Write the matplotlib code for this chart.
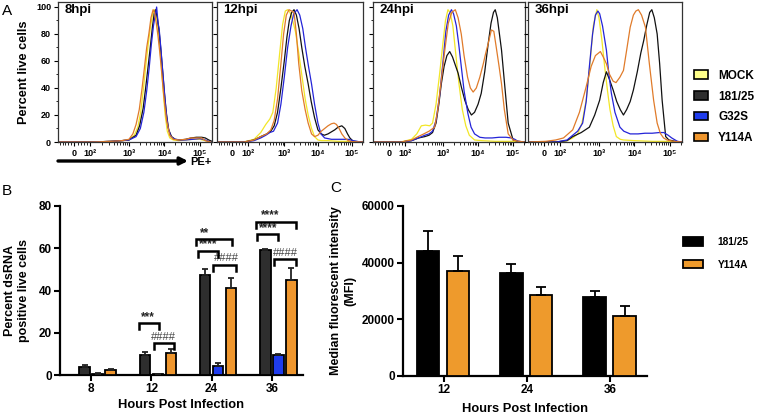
import numpy as np
import matplotlib.pyplot as plt
from matplotlib.patches import Patch

plt.rcParams['font.family'] = ['Liberation Sans', 'DejaVu Sans']
plt.rcParams['font.weight'] = 'bold'
plt.rcParams['axes.labelweight'] = 'bold'

W, H = 757, 416

# ---- data --------------------------------------------------------------
strains = ['MOCK', '181/25', 'G32S', 'Y114A']
line_colors = {'MOCK': '#f2e627', '181/25': '#111111', 'G32S': '#2424d8', 'Y114A': '#e07b2a'}
fill_colors = {'MOCK': '#ffff8a', '181/25': '#2e2e2e', 'G32S': '#1f3ced', 'Y114A': '#ef962d'}

hist_titles = ['8hpi', '12hpi', '24hpi', '36hpi']
pe_ticks = [1.46, 1.91, 3.0, 4.0, 5.0]
pe_tick_labels = ['0', '10²', '10³', '10⁴', '10⁵']

# flow histograms, x in display units (~log10 PE), y in percent of max
hist_8 = {
    'MOCK': ([1.0, 2.0, 2.5, 2.8, 3.0, 3.15, 3.25, 3.33, 3.41, 3.48, 3.55, 3.61, 3.67, 3.72, 3.77,
              3.82, 3.87, 3.92, 3.97, 4.02, 4.08, 4.15, 4.25, 4.4, 4.6, 4.8, 5.0, 5.15, 5.3],
             [0, 0, 0.5, 1, 1.5, 5, 11, 22, 40, 58, 74, 86, 95, 98, 94,
              84, 70, 54, 36, 20, 8, 3, 1.5, 1, 1.5, 2, 2, 1, 0]),
    '181/25': ([1.0, 2.0, 2.5, 2.8, 3.0, 3.2, 3.3, 3.4, 3.47, 3.54, 3.6, 3.66, 3.71, 3.75, 3.8, 3.85,
                3.9, 3.95, 4.0, 4.06, 4.12, 4.2, 4.3, 4.45, 4.6, 4.75, 4.9, 5.05, 5.15, 5.25, 5.34],
               [0, 0, 0.5, 1, 1.5, 5, 12, 25, 40, 56, 70, 85, 95, 98, 92, 82,
                68, 52, 36, 20, 9, 4, 2, 1.5, 2, 3, 3.5, 3.5, 3, 1.5, 0.5]),
    'G32S': ([1.0, 2.0, 2.5, 2.8, 3.0, 3.2, 3.32, 3.42, 3.5, 3.57, 3.63, 3.69, 3.74, 3.78, 3.82,
              3.85, 3.89, 3.94, 3.99, 4.04, 4.1, 4.18, 4.3, 4.45, 4.6, 4.8, 5.0, 5.15, 5.3],
             [0, 0, 0.5, 1, 1.5, 4, 10, 22, 38, 55, 72, 86, 94, 100, 88,
              84, 72, 56, 40, 24, 11, 4, 2, 1.5, 1.5, 2, 2.5, 1.5, 0]),
    'Y114A': ([1.0, 2.0, 2.5, 2.8, 3.0, 3.11, 3.2, 3.29, 3.37, 3.44, 3.5, 3.56, 3.62, 3.68, 3.72, 3.77,
               3.82, 3.87, 3.92, 3.96, 4.01, 4.06, 4.15, 4.25, 4.4, 4.6, 4.75, 4.9, 5.05, 5.15, 5.3],
              [0, 0, 0.5, 1, 2, 6, 13, 24, 40, 56, 70, 80, 92, 98, 96, 88,
               78, 66, 52, 40, 27, 16, 5, 2, 1.5, 2, 3, 3, 3, 1, 0]),
}
hist_12 = {
    'MOCK': ([1.0, 1.8, 2.1, 2.3, 2.45, 2.57, 2.66, 2.76, 2.86, 2.95, 3.03, 3.1, 3.17, 3.25,
              3.33, 3.43, 3.53, 3.62, 3.71, 3.81, 3.9, 4.0, 4.1, 4.3, 4.6, 5.0, 5.34],
             [0, 0, 2, 7, 13, 17, 22, 40, 65, 87, 97, 98, 96, 90,
              82, 66, 48, 32, 20, 10, 4, 1.5, 1, 1, 0.5, 0.5, 0]),
    '181/25': ([1.0, 1.8, 2.1, 2.3, 2.48, 2.6, 2.7, 2.8, 2.9, 3.0, 3.08, 3.15, 3.22, 3.29, 3.36, 3.44, 3.52,
                3.61, 3.71, 3.8, 3.9, 4.0, 4.1, 4.19, 4.3, 4.4, 4.5, 4.6, 4.71, 4.8, 4.88, 4.95, 5.05, 5.34],
               [0, 0, 1.5, 4, 6, 8, 12, 22, 40, 60, 78, 90, 96, 98, 94, 84, 70,
                56, 43, 30, 18, 9, 6, 5, 6, 7.5, 9, 11, 12, 10, 6, 3, 0.5, 0]),
    'G32S': ([1.0, 1.8, 2.1, 2.3, 2.45, 2.57, 2.68, 2.8, 2.9, 3.0, 3.1, 3.2, 3.28, 3.38, 3.46,
              3.55, 3.63, 3.72, 3.81, 3.9, 4.0, 4.09, 4.2, 4.4, 4.7, 4.9, 5.05, 5.2, 5.34],
             [0, 0, 1, 3, 5, 7, 8, 14, 28, 48, 70, 86, 95, 98, 94,
              84, 70, 56, 43, 28, 14, 6, 3, 2, 2, 2, 1, 0.3, 0]),
    'Y114A': ([1.0, 1.8, 2.1, 2.3, 2.48, 2.6, 2.7, 2.8, 2.9, 2.98, 3.06, 3.14, 3.22, 3.29, 3.36, 3.43, 3.52,
               3.62, 3.71, 3.81, 3.9, 4.0, 4.1, 4.2, 4.3, 4.4, 4.48, 4.55, 4.63, 4.71, 4.8, 4.9, 5.0, 5.34],
              [0, 0, 1.5, 4, 6, 9, 16, 32, 58, 80, 94, 98, 97, 96, 80, 58, 38,
               24, 14, 6, 4, 5, 8, 10, 12, 13.5, 14, 13, 10, 6, 3, 1, 0.3, 0]),
}
hist_24 = {
    'MOCK': ([1.0, 1.8, 2.1, 2.25, 2.38, 2.5, 2.62, 2.7, 2.8, 2.9, 3.0, 3.07, 3.14,
              3.2, 3.28, 3.36, 3.45, 3.55, 3.65, 3.75, 3.9, 4.1, 4.5, 5.0, 5.34],
             [0, 0, 2, 6, 12, 12.5, 12, 14, 28, 50, 74, 90, 98,
              96, 86, 66, 44, 24, 12, 5, 1.5, 1, 0.5, 0.5, 0]),
    '181/25': ([1.0, 1.8, 2.1, 2.3, 2.48, 2.6, 2.7, 2.8, 2.88, 2.95, 3.03, 3.11, 3.19, 3.27, 3.35, 3.43, 3.52,
                3.62, 3.72, 3.81, 3.9, 4.0, 4.09, 4.19, 4.29, 4.37, 4.44, 4.49, 4.55, 4.61, 4.67, 4.75,
                4.86, 5.0, 5.15, 5.34],
               [0, 0, 1, 3, 4, 5, 7, 14, 28, 43, 56, 64, 67, 63, 57, 51, 41,
                31, 24, 20, 22, 28, 36, 52, 73, 88, 96, 98, 92, 80, 68, 45,
                14, 1.5, 0.5, 0]),
    'G32S': ([1.0, 1.8, 2.1, 2.3, 2.48, 2.6, 2.7, 2.8, 2.9, 3.0, 3.08, 3.16, 3.24, 3.3, 3.38,
              3.45, 3.52, 3.6, 3.71, 3.8, 3.9, 4.05, 4.2, 4.4, 4.6, 4.8, 4.95, 5.05, 5.14, 5.34],
             [0, 0, 1, 3, 5, 6, 8, 16, 34, 60, 82, 94, 98, 95, 86,
              72, 56, 38, 21, 11, 6, 3.5, 3, 3, 3.5, 3.5, 3, 2, 0.5, 0]),
    'Y114A': ([1.0, 1.8, 2.1, 2.29, 2.45, 2.6, 2.76, 2.85, 2.95, 3.05, 3.15, 3.25, 3.35, 3.43, 3.52, 3.6,
               3.7, 3.78, 3.86, 3.95, 4.05, 4.15, 4.22, 4.29, 4.38, 4.45, 4.52, 4.6, 4.67, 4.75,
               4.86, 5.0, 5.15, 5.34],
              [0, 0, 1.5, 4, 6, 8, 11, 24, 46, 68, 88, 96, 98, 92, 80, 64,
               48, 40, 37, 40, 48, 58, 66, 73, 83, 82, 70, 56, 43, 24,
               6, 1.5, 0.5, 0]),
}
hist_36 = {
    'MOCK': ([1.0, 1.8, 2.1, 2.26, 2.4, 2.52, 2.64, 2.74, 2.84, 2.94, 3.0, 3.08,
              3.16, 3.24, 3.31, 3.4, 3.49, 3.6, 3.69, 4.0, 4.5, 5.0, 5.34],
             [0, 0, 1, 3, 6, 14, 31, 56, 86, 98, 92, 76,
              56, 38, 24, 12, 4, 2, 1.5, 1, 0.5, 0.5, 0]),
    '181/25': ([1.0, 1.8, 2.1, 2.26, 2.5, 2.73, 2.88, 3.02, 3.12, 3.21, 3.3, 3.4, 3.5, 3.6, 3.69, 3.78,
                3.88, 3.97, 4.08, 4.18, 4.26, 4.35, 4.43, 4.49, 4.56, 4.64, 4.71, 4.78, 4.88, 4.97,
                5.15, 5.34],
               [0, 0, 1, 4, 7, 11, 20, 31, 44, 52, 46, 38.5, 30, 24, 20, 24,
                30, 38.5, 52, 66, 75, 87, 96, 98, 92, 80, 58, 31, 4, 1.5,
                0.5, 0]),
    'G32S': ([1.0, 1.8, 2.1, 2.26, 2.4, 2.54, 2.64, 2.73, 2.82, 2.9, 2.97, 3.02, 3.1, 3.21, 3.28,
              3.35, 3.45, 3.59, 3.7, 3.88, 4.1, 4.3, 4.5, 4.7, 4.83, 4.95, 5.05, 5.21, 5.34],
             [0, 0, 1.5, 5, 8, 14, 30, 56, 80, 94, 97, 95, 86, 68, 50,
              36, 22, 11, 8, 6, 6, 6.5, 6.5, 7, 7, 5, 3, 0.5, 0]),
    'Y114A': ([1.0, 1.5, 1.78, 2.0, 2.26, 2.45, 2.64, 2.78, 2.9, 3.04, 3.12, 3.21, 3.3, 3.4, 3.48, 3.59,
               3.69, 3.78, 3.88, 3.97, 4.04, 4.11, 4.2, 4.31, 4.42, 4.54, 4.64, 4.73, 4.82, 4.92,
               5.1, 5.34],
              [0, 0.5, 1.5, 3, 9, 22, 41, 56, 64, 67, 63, 58, 50, 45, 44, 48,
               53, 68, 85, 94, 97, 98, 94, 85, 58, 31, 14, 6.4, 3, 1.5,
               0.5, 0]),
}
histograms = [hist_8, hist_12, hist_24, hist_36]

# panel B: percent dsRNA positive live cells
hours_b = ['8', '12', '24', '36']
dsrna = {
    'MOCK': [0, 0, 0, 0],
    '181/25': [3.8, 9.4, 47.5, 59.3],
    'G32S': [0.6, 0.3, 4.1, 9.3],
    'Y114A': [2.2, 10.6, 41.2, 45.1],
}
dsrna_err = {
    'MOCK': [0, 0, 0, 0],
    '181/25': [0.9, 1.6, 2.7, 0.5],
    'G32S': [0.3, 0.1, 1.7, 0.7],
    'Y114A': [0.6, 1.8, 4.8, 5.6],
}

# panel C: median fluorescent intensity
hours_c = ['12', '24', '36']
mfi_181 = [44200, 36400, 27900]
mfi_181_err = [7100, 3100, 2000]
mfi_y114a = [36900, 28600, 20900]
mfi_y114a_err = [5500, 2800, 3800]


def px_box(x0, y0, x1, y1):
    return [x0 / W, 1 - y1 / H, (x1 - x0) / W, (y1 - y0) / H]


fig = plt.figure(figsize=(W / 100, H / 100), dpi=100)

# ---- panel A: histograms -----------------------------------------------
boxes_a = [(58, 2, 212, 142), (217, 2, 363, 142), (373, 2, 525, 142), (528, 2, 682, 142)]
minor_pe = list(np.arange(1.05, 1.42, 0.08)) + list(np.arange(1.55, 1.86, 0.09))
minor_pe += [1.91 + 1.09 * np.log10(k) for k in range(2, 10)]
minor_pe += [d + np.log10(k) for d in (3, 4) for k in range(2, 10)] + [5.3]

for i, (box, title, hist) in enumerate(zip(boxes_a, hist_titles, histograms)):
    ax = fig.add_axes(px_box(*box))
    for s in strains:
        xs, ys = hist[s]
        ax.plot(xs, ys, color=line_colors[s], lw=0.9)
    ax.set_xlim(1.0, 5.34)
    ax.set_ylim(0, 103.7)
    ax.set_xticks(pe_ticks)
    ax.set_xticklabels(pe_tick_labels, fontsize=6.5)
    ax.set_xticks(minor_pe, minor=True)
    ax.set_yticks([0, 20, 40, 60, 80, 100])
    ax.set_yticks(range(10, 100, 20), minor=True)
    ax.tick_params(which='major', length=3, width=0.8, pad=2, labelsize=6.5)
    ax.tick_params(which='minor', length=1.8, width=0.6)
    if i > 0:
        ax.set_yticklabels([])
    for sp in ax.spines.values():
        sp.set_linewidth(0.9)
        sp.set_color('#333333')
    ax.text(0.04, 0.985, title, transform=ax.transAxes, fontsize=9.5, fontweight='bold',
            va='top', ha='left')
    if i == 0:
        ax.set_ylabel('Percent live cells', fontsize=9.2, labelpad=4)

fig.text(2 / W, 1 - 11 / H, 'A', fontsize=11, fontweight='normal', va='center')
fig.text(2 / W, 1 - 191 / H, 'B', fontsize=11, fontweight='normal', va='center')
fig.text(330 / W, 1 - 188 / H, 'C', fontsize=11, fontweight='normal', va='center')

# PE+ arrow
fig.axes[0].annotate('', xy=(188 / W, 1 - 161 / H), xytext=(58 / W, 1 - 161 / H),
                     xycoords='figure fraction', textcoords='figure fraction',
                     arrowprops=dict(arrowstyle='-|>', lw=2.4, color='black',
                                     mutation_scale=11, shrinkA=0, shrinkB=0))
fig.text(190 / W, 1 - 162 / H, 'PE+', fontsize=8, fontweight='bold', va='center')

handles_a = [Patch(facecolor=fill_colors[s], edgecolor='black', lw=1.2) for s in strains]
fig.legend(handles_a, strains, loc='center left', bbox_to_anchor=(694 / W, 1 - 107 / H),
           frameon=False, fontsize=8.5, borderpad=0, borderaxespad=0,
           handlelength=1.2, handleheight=0.7, handletextpad=0.85, labelspacing=0.75)

# ---- panel B: grouped bars ----------------------------------------------
axb = fig.add_axes(px_box(60, 206, 303, 375))
xb = np.arange(len(hours_b))
step, width_b = 0.216, 0.18
for j, s in enumerate(strains):
    off = (j - 1.5) * step
    vals = dsrna[s]
    errs = dsrna_err[s]
    if s == 'MOCK':
        continue
    axb.bar(xb + off, vals, width_b, color=fill_colors[s], edgecolor='black', lw=1.3,
            yerr=[np.zeros(len(errs)), errs], capsize=2.5,
            error_kw=dict(elinewidth=1.3, capthick=1.3, ecolor='#222222'), zorder=3)
axb.set_xlim(-0.52, 3.52)
axb.set_ylim(0, 80)
axb.set_yticks([0, 20, 40, 60, 80])
axb.set_xticks(xb)
axb.set_xticklabels(hours_b)

# significance brackets: group, x0, x1 (relative to group centre), height, label, text x
brackets = [
    (1, -0.207, 0.129, 24.5, '***', -0.06),
    (1, 0.046, 0.373, 15.0, '####', 0.207),
    (2, -0.265, 0.34, 64.2, '**', -0.11),
    (2, -0.232, 0.11, 58.8, '****', -0.06),
    (2, 0.027, 0.398, 52.1, '####', 0.245),
    (3, -0.254, 0.398, 72.6, '****', -0.03),
    (3, -0.237, 0.104, 66.6, '****', -0.065),
    (3, 0.038, 0.41, 54.8, '####', 0.232),
]
for g, x0, x1, yt, lab, tx in brackets:
    axb.plot([g + x0, g + x0, g + x1, g + x1], [yt - 2.8, yt, yt, yt - 2.8],
             color='black', lw=1.8, solid_joinstyle='miter', clip_on=False, zorder=4)
    if lab.startswith('#'):
        axb.text(g + tx, yt + 0.8, lab, ha='center', va='bottom', fontsize=8,
                 fontweight='normal', color='#444444')
    else:
        axb.text(g + tx, yt + 0.2, lab, ha='center', va='bottom', fontsize=8.5,
                 fontweight='bold', color='#222222')

axb.set_xlabel('Hours Post Infection', fontsize=9.3, labelpad=3)
axb.set_ylabel('Percent dsRNA\npositive live cells', fontsize=9, labelpad=6)

# ---- panel C: MFI bars ----------------------------------------------------
axc = fig.add_axes(px_box(403, 206, 647, 375.5))
xc = np.arange(len(hours_c))
width_c = 0.27
axc.bar(xc - 0.19, mfi_181, width_c, color='black', edgecolor='black', lw=1.3,
        yerr=[np.zeros(3), mfi_181_err], capsize=3.5,
        error_kw=dict(elinewidth=1.3, capthick=1.3), label='181/25', zorder=3)
axc.bar(xc + 0.17, mfi_y114a, width_c, color='#ee9a2c', edgecolor='black', lw=1.3,
        yerr=[np.zeros(3), mfi_y114a_err], capsize=3.5,
        error_kw=dict(elinewidth=1.3, capthick=1.3), label='Y114A', zorder=3)
axc.set_xlim(-0.49, 2.44)
axc.set_ylim(0, 60000)
axc.set_yticks([0, 20000, 40000, 60000])
axc.set_xticks(xc)
axc.set_xticklabels(hours_c)
axc.set_xlabel('Hours Post Infection', fontsize=9.3, labelpad=5)
axc.set_ylabel('Median fluorescent intensity\n(MFI)', fontsize=9, labelpad=4)
fig.legend(*axc.get_legend_handles_labels(), loc='center left',
           bbox_to_anchor=(683 / W, 1 - 253.3 / H), frameon=False, fontsize=7.3,
           borderpad=0, borderaxespad=0, handlelength=2.0, handleheight=0.9,
           handletextpad=1.4, labelspacing=1.25)

for ax in (axb, axc):
    for side in ('top', 'right'):
        ax.spines[side].set_visible(False)
    for side in ('left', 'bottom'):
        ax.spines[side].set_linewidth(1.6)
    ax.tick_params(length=4, width=1.5, labelsize=8.5, pad=2)

fig.savefig('out.png', dpi=100)
